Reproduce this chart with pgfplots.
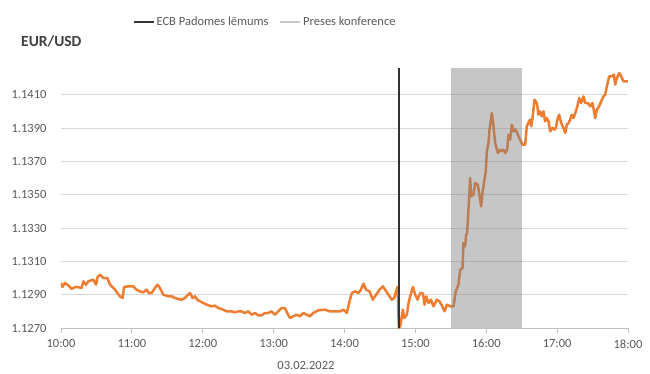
\documentclass[border=0pt]{standalone}
\usepackage{fontspec}
\setmainfont{Carlito}
\usepackage{pgfplots}
\pgfplotsset{compat=1.18}
\definecolor{eurorange}{HTML}{ED7D31}
\definecolor{txtgray}{HTML}{595959}
\definecolor{gridgray}{HTML}{D9D9D9}
\definecolor{axgray}{HTML}{BFBFBF}
\definecolor{ttlgray}{HTML}{404040}
\pgfplotstableread{
h v
10.000 1.1297
10.019 1.12946
10.056 1.1297
10.103 1.12955
10.150 1.12935
10.197 1.12945
10.244 1.12945
10.291 1.1294
10.315 1.1298
10.353 1.1296
10.386 1.1298
10.456 1.1299
10.494 1.1296
10.517 1.13006
10.550 1.1302
10.597 1.1300
10.654 1.1300
10.691 1.1296
10.762 1.1293
10.832 1.1289
10.870 1.1288
10.889 1.12946
10.950 1.1295
11.020 1.1295
11.067 1.1293
11.114 1.1292
11.161 1.12914
11.208 1.1293
11.241 1.1291
11.279 1.1291
11.326 1.1294
11.359 1.1296
11.396 1.1294
11.443 1.1290
11.514 1.1289
11.561 1.1289
11.608 1.1288
11.655 1.12874
11.702 1.1287
11.749 1.1288
11.796 1.1290
11.819 1.1291
11.857 1.1288
11.890 1.1289
11.923 1.1287
11.961 1.1286
12.008 1.1285
12.055 1.1284
12.125 1.1283
12.172 1.12834
12.219 1.1282
12.266 1.12814
12.337 1.1280
12.407 1.1280
12.454 1.12794
12.501 1.1280
12.548 1.1280
12.595 1.1279
12.642 1.1280
12.689 1.1278
12.736 1.1279
12.783 1.12776
12.830 1.12776
12.877 1.1279
12.924 1.1279
12.971 1.1280
13.018 1.1278
13.065 1.1280
13.112 1.1282
13.159 1.1282
13.192 1.1279
13.230 1.1276
13.277 1.1277
13.324 1.1278
13.371 1.1277
13.418 1.1279
13.465 1.1278
13.512 1.1277
13.559 1.1279
13.630 1.12806
13.724 1.1281
13.794 1.1280
13.868 1.1280
13.939 1.1280
13.986 1.1281
14.033 1.1279
14.071 1.1286
14.104 1.1291
14.151 1.1292
14.198 1.1291
14.231 1.1293
14.268 1.12966
14.306 1.1293
14.353 1.1292
14.400 1.1287
14.447 1.1290
14.494 1.1293
14.541 1.1295
14.588 1.1292
14.635 1.1289
14.668 1.1287
14.701 1.1288
14.748 1.12946
14.767 1.1270
14.786 1.1271
14.824 1.1281
14.842 1.1276
14.880 1.1278
14.904 1.1285
14.927 1.1289
14.965 1.12946
14.998 1.1290
15.031 1.1287
15.068 1.1291
15.106 1.1291
15.129 1.1284
15.153 1.1289
15.186 1.1285
15.219 1.1287
15.256 1.1283
15.304 1.1287
15.341 1.1286
15.374 1.12834
15.412 1.1280
15.445 1.1284
15.492 1.1283
15.539 1.1283
15.552 1.1287
15.570 1.1292
15.608 1.1296
15.632 1.1305
15.665 1.1306
15.679 1.1321
15.702 1.1319
15.716 1.1326
15.730 1.1327
15.749 1.1341
15.773 1.1360
15.787 1.1349
15.820 1.1350
15.843 1.1357
15.881 1.1356
15.900 1.1351
15.928 1.1343
15.947 1.1351
15.975 1.1359
15.994 1.1364
16.008 1.1376
16.032 1.1381
16.046 1.1389
16.079 1.1399
16.102 1.1391
16.126 1.1381
16.163 1.1375
16.196 1.1377
16.220 1.1376
16.243 1.1377
16.267 1.1375
16.295 1.1377
16.314 1.1386
16.337 1.1383
16.361 1.1392
16.389 1.1388
16.417 1.1389
16.455 1.1385
16.511 1.1380
16.549 1.1380
16.572 1.1391
16.615 1.1395
16.634 1.1391
16.653 1.1396
16.681 1.1407
16.714 1.1405
16.737 1.1398
16.761 1.1400
16.784 1.1397
16.808 1.1400
16.831 1.1394
16.855 1.1396
16.878 1.1394
16.902 1.1388
16.935 1.1390
16.963 1.1389
16.982 1.1390
17.010 1.1396
17.029 1.1398
17.057 1.1393
17.090 1.1390
17.114 1.1387
17.137 1.1392
17.161 1.1393
17.184 1.1395
17.208 1.1398
17.231 1.1396
17.264 1.1400
17.292 1.1404
17.311 1.1408
17.339 1.1405
17.372 1.1409
17.396 1.1405
17.433 1.1405
17.466 1.1403
17.499 1.1405
17.537 1.1396
17.561 1.1401
17.593 1.1403
17.622 1.1406
17.655 1.1409
17.678 1.1410
17.702 1.1415
17.735 1.1421
17.772 1.1421
17.801 1.1422
17.819 1.1416
17.843 1.1420
17.876 1.1423
17.904 1.1421
17.937 1.1418
17.970 1.1418
18.000 1.1418
}\eurusd
\begin{document}
\begin{tikzpicture}[x=1pt,y=1pt]
\useasboundingbox (-61,-45) rectangle (589,328);
\begin{axis}[
  at={(0,0)}, anchor=south west,
  scale only axis, width=567pt, height=260pt,
  xmin=10, xmax=18, ymin=1.1270, ymax=1.1426,
  xtick={10,11,12,13,14,15,16,17,18},
  xticklabels={10:00,11:00,12:00,13:00,14:00,15:00,16:00,17:00,18:00},
  ytick={1.127,1.129,1.131,1.133,1.135,1.137,1.139,1.141},
  scaled y ticks=false,
  ymajorgrids, grid style={gridgray, line width=0.8pt},
  axis x line*=bottom, axis y line*=left,
  x axis line style={axgray, line width=0.8pt, -},
  y axis line style={draw=none},
  major y tick style={draw=none},
  major x tick style={axgray, line width=0.8pt},
  tick align=outside, major tick length=5pt,
  tick label style={font=\fontsize{12.5}{15}\selectfont, text=txtgray},
  yticklabel style={/pgf/number format/.cd, fixed, fixed zerofill, precision=4, use period, 1000 sep={}, assume math mode=true, /tikz/.cd, xshift=-6pt},
  xticklabel style={yshift=-3pt},
  xlabel={03.02.2022},
  xlabel style={at={(axis description cs:0.432,0)}, anchor=center, yshift=-37pt, font=\fontsize{12.5}{15}\selectfont, text=txtgray},
  legend style={draw=none, fill=none, at={(rel axis cs:0.127,1.177)}, anchor=west,
    font=\fontsize{12.5}{15}\selectfont, text=txtgray, inner sep=0pt,
    /tikz/every even column/.append style={column sep=8pt}},
  legend columns=2,
  legend cell align=left,
]
\addplot[eurorange, line width=2.5pt, line join=round, forget plot] table[x=h, y=v] {\eurusd};
\addplot[black!80, line width=1.4pt,
  legend image code/.code={\draw[black!80, line width=1.4pt] (0pt,0pt) -- (20pt,0pt);}]
  coordinates {(14.767,1.1270) (14.767,1.1426)};
\addlegendentry{ECB Padomes lēmums}
\addplot[draw=none, fill=black!50, fill opacity=0.45,
  legend image code/.code={\draw[black!22, line width=2.6pt] (0pt,0pt) -- (20pt,0pt);}]
  coordinates {(15.5,1.1270) (15.5,1.1426) (16.5,1.1426) (16.5,1.1270)} -- cycle;
\addlegendentry{Preses konference}
\end{axis}
\node[anchor=west, inner sep=0pt, font=\bfseries\fontsize{15.5}{18}\selectfont, text=ttlgray] at (-40,287) {EUR/USD};
\end{tikzpicture}
\end{document}
